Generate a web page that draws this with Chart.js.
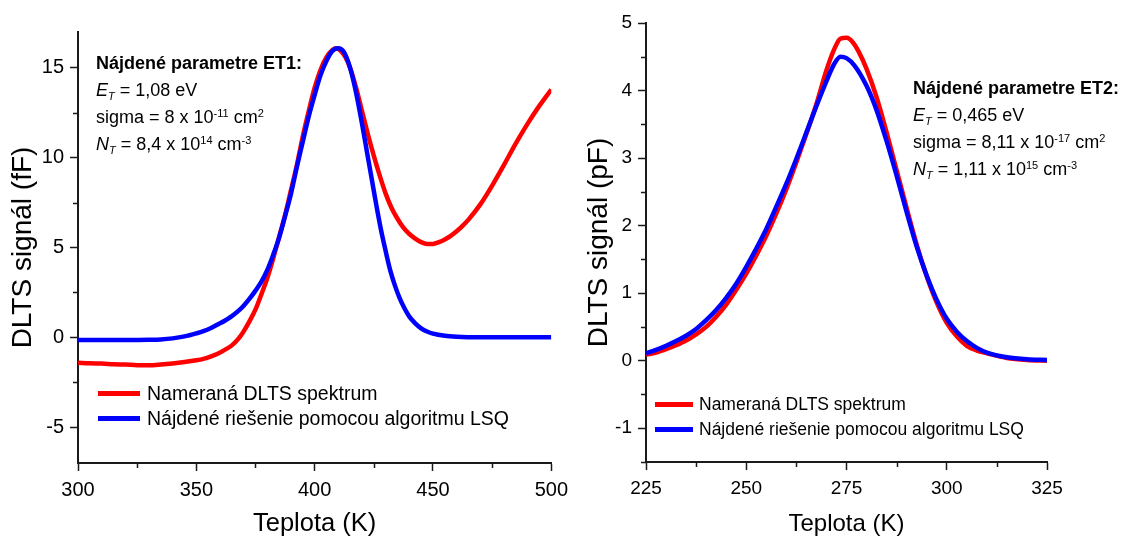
<!DOCTYPE html>
<html>
<head>
<meta charset="utf-8">
<title>DLTS spektrá</title>
<script src="https://cdn.jsdelivr.net/npm/chart.js@4.4.0/dist/chart.umd.min.js"></script>
<style>
  body { margin: 0; background: #fff; font-family: 'Liberation Sans', Arial, sans-serif; }
  #wrap { position: relative; width: 1129px; height: 542px; overflow: hidden; }
  canvas { position: absolute; top: 0; }
  #c1 { left: 0; }
  #c2 { left: 575px; }
  .note { position: absolute; font-size: 18px; line-height: 27px; color: #000; white-space: nowrap; }
  .note sup, .note sub { font-size: 11px; line-height: 0; position: relative; vertical-align: baseline; }
  .note sup { top: -6px; }
  .note sub { top: 4px; }
  .legend { position: absolute; color: #000; white-space: nowrap; }
  .legend .row { display: flex; align-items: center; height: 25px; }
  .legend .swatch { display: inline-block; height: 5px; }
</style>
</head>
<body>
<div id="wrap">
  <canvas id="c1" width="575" height="542"></canvas>
  <canvas id="c2" width="554" height="542"></canvas>

  <div class="note" style="left:96px; top:50px;">
    <b>Nájdené parametre ET1:</b><br>
    <i>E</i><sub><i>T</i></sub> = 1,08 eV<br>
    sigma = 8 x 10<sup>-11</sup> cm<sup>2</sup><br>
    <i>N</i><sub><i>T</i></sub> = 8,4 x 10<sup>14</sup> cm<sup>-3</sup>
  </div>
  <div class="note" style="left:913px; top:75px;">
    <b>Nájdené parametre ET2:</b><br>
    <i>E</i><sub><i>T</i></sub> = 0,465 eV<br>
    sigma = 8,11 x 10<sup>-17</sup> cm<sup>2</sup><br>
    <i>N</i><sub><i>T</i></sub> = 1,11 x 10<sup>15</sup> cm<sup>-3</sup>
  </div>

  <div class="legend" style="left:98px; top:381px; font-size:19.5px;">
    <div class="row"><span class="swatch" style="width:42px; margin-right:7px; background:#ff0000;"></span>Nameraná DLTS spektrum</div>
    <div class="row"><span class="swatch" style="width:42px; margin-right:7px; background:#0000ff;"></span>Nájdené riešenie pomocou algoritmu LSQ</div>
  </div>
  <div class="legend" style="left:655px; top:392px; font-size:17.5px;">
    <div class="row"><span class="swatch" style="width:38px; margin-right:6px; background:#ff0000;"></span>Nameraná DLTS spektrum</div>
    <div class="row"><span class="swatch" style="width:38px; margin-right:6px; background:#0000ff;"></span>Nájdené riešenie pomocou algoritmu LSQ</div>
  </div>
</div>

<script>
// ET1 - measured spectrum (fF) and LSQ fit
var temp1Meas = [300, 305, 310, 315, 320, 325, 330, 335, 340, 345, 350, 353, 356, 359, 362, 365, 368, 370,
  372.5, 375, 377.5, 380, 382.5, 385, 387.5, 390, 392.5, 395, 397.5, 400, 402.5, 405, 407.5, 409, 411, 413,
  415, 417.5, 420, 422.5, 425, 427.5, 430, 432.5, 435, 437.5, 440, 442.5, 445, 447.5, 450, 452.5, 455,
  457.5, 460, 462.5, 465, 470, 475, 480, 485, 490, 495, 500];
var sig1Meas = [-1.42, -1.45, -1.46, -1.50, -1.52, -1.55, -1.56, -1.52, -1.46, -1.38, -1.28, -1.20, -1.08,
  -0.92, -0.70, -0.45, -0.05, 0.33, 0.90, 1.55, 2.40, 3.30, 4.40, 5.60, 6.80, 8.20, 9.60, 11.20, 12.60,
  13.90, 14.90, 15.60, 16.00, 16.10, 15.95, 15.60, 15.00, 13.90, 12.60, 11.30, 10.10, 9.00, 8.00, 7.20,
  6.60, 6.10, 5.75, 5.50, 5.30, 5.20, 5.20, 5.30, 5.45, 5.65, 5.90, 6.20, 6.55, 7.40, 8.45, 9.60, 10.80,
  11.90, 12.90, 13.80];
var temp1Fit = [300, 310, 320, 330, 335, 340, 345, 350, 353, 356, 359, 362, 365, 368, 370, 372.5, 375,
  377.5, 380, 382.5, 385, 387.5, 390, 392.5, 395, 397.5, 400, 402.5, 405, 407.5, 410, 412, 414, 416, 418,
  420, 422, 424, 426, 428, 430, 432, 434, 436, 438, 440, 442.5, 445, 447.5, 450, 455, 460, 470, 480, 500];
var sig1Fit = [-0.15, -0.15, -0.15, -0.14, -0.12, -0.06, 0.05, 0.22, 0.34, 0.50, 0.71, 0.92, 1.18, 1.50,
  1.76, 2.15, 2.60, 3.10, 3.75, 4.60, 5.55, 6.75, 8.00, 9.50, 10.90, 12.30, 13.50, 14.60, 15.40, 15.95,
  16.10, 15.95, 15.40, 14.50, 13.30, 11.90, 10.40, 8.90, 7.40, 6.00, 4.80, 3.70, 2.85, 2.15, 1.60, 1.15,
  0.78, 0.50, 0.32, 0.20, 0.08, 0.03, 0.00, 0.00, 0.00];

// ET2 - measured spectrum (pF) and LSQ fit
var temp2Meas = [225, 227.5, 230, 232.5, 235, 237.5, 240, 242.5, 245, 247.5, 250, 252.5, 255, 257.5, 260,
  262.5, 265, 267.5, 270, 272, 273.5, 275, 276.5, 278, 280, 282.5, 285, 287.5, 290, 292.5, 295, 297.5,
  300, 302.5, 305, 307.5, 310, 315, 320, 325];
var sig2Meas = [0.09, 0.12, 0.17, 0.23, 0.30, 0.39, 0.50, 0.65, 0.83, 1.05, 1.29, 1.56, 1.85, 2.18, 2.54,
  2.94, 3.36, 3.80, 4.30, 4.62, 4.77, 4.78, 4.72, 4.58, 4.32, 3.90, 3.38, 2.82, 2.26, 1.72, 1.25, 0.86,
  0.56, 0.36, 0.22, 0.15, 0.11, 0.04, 0.01, 0.00];
var temp2Fit = [225, 227.5, 230, 232.5, 235, 237.5, 240, 242.5, 245, 247.5, 250, 252.5, 255, 257.5, 260,
  262.5, 265, 267.5, 270, 272, 273.5, 275, 277, 280, 282.5, 285, 287.5, 290, 292.5, 295, 297.5, 300,
  302.5, 305, 307.5, 310, 315, 320, 325];
var sig2Fit = [0.11, 0.16, 0.22, 0.29, 0.37, 0.47, 0.60, 0.75, 0.93, 1.14, 1.39, 1.66, 1.95, 2.28, 2.62,
  2.99, 3.38, 3.77, 4.14, 4.40, 4.50, 4.48, 4.37, 4.07, 3.71, 3.25, 2.74, 2.20, 1.69, 1.26, 0.90, 0.62,
  0.43, 0.29, 0.19, 0.12, 0.05, 0.02, 0.01];

// minor tick positions (major ones come from stepSize)
var minorX1 = [325, 375, 425, 475];
var minorY1 = [-2.5, 2.5, 7.5, 12.5];
var minorX2 = [237.5, 262.5, 287.5, 312.5];
var minorY2 = [-1.5, -0.5, 0.5, 1.5, 2.5, 3.5, 4.5];

var axisColor = '#1a1a1a';
Chart.defaults.font.family = "'Liberation Sans', Arial, sans-serif";
Chart.defaults.color = '#000';

function pairs(xs, ys) {
  return xs.map(function (x, i) { return { x: x, y: ys[i] }; });
}

// short outward ticks between the labelled ones
var minorTicks = {
  id: 'minorTicks',
  afterDraw: function (chart, args, opts) {
    var ctx = chart.ctx, area = chart.chartArea;
    ctx.save();
    ctx.strokeStyle = axisColor;
    ctx.lineWidth = 1.5;
    ctx.beginPath();
    opts.x.forEach(function (v) {
      var px = Math.round(chart.scales.x.getPixelForValue(v)) + 0.5;
      ctx.moveTo(px, area.bottom);
      ctx.lineTo(px, area.bottom + 5);
    });
    opts.y.forEach(function (v) {
      var py = Math.round(chart.scales.y.getPixelForValue(v)) + 0.5;
      ctx.moveTo(area.left, py);
      ctx.lineTo(area.left - 5, py);
    });
    ctx.stroke();
    ctx.restore();
  }
};

function makeChart(id, cfg) {
  return new Chart(document.getElementById(id), {
    type: 'line',
    data: {
      datasets: [
        {
          label: 'Nameraná DLTS spektrum',
          data: pairs(cfg.measX, cfg.measY),
          borderColor: '#ff0000',
          borderWidth: 4.5,
          pointRadius: 0,
          cubicInterpolationMode: 'monotone',
          order: 1
        },
        {
          label: 'Nájdené riešenie pomocou algoritmu LSQ',
          data: pairs(cfg.fitX, cfg.fitY),
          borderColor: '#0000ff',
          borderWidth: 4.5,
          pointRadius: 0,
          cubicInterpolationMode: 'monotone',
          order: 0
        }
      ]
    },
    options: {
      responsive: false,
      animation: false,
      layout: { padding: { left: 0, top: cfg.top, right: cfg.right, bottom: 0 } },
      plugins: {
        legend: { display: false },
        tooltip: { enabled: false },
        minorTicks: { x: cfg.minorX, y: cfg.minorY }
      },
      scales: {
        x: {
          type: 'linear',
          min: cfg.xMin, max: cfg.xMax,
          afterFit: function (s) { s.height = cfg.xHeight; },
          border: { color: axisColor, width: 2 },
          grid: { drawOnChartArea: false, tickLength: 8, tickColor: axisColor, tickWidth: 1.5 },
          ticks: { stepSize: cfg.xStep, font: { size: cfg.tickSize }, padding: 7, maxRotation: 0 },
          title: { display: true, text: 'Teplota (K)', font: { size: cfg.xTitleSize }, padding: { top: 0, bottom: 3 } }
        },
        y: {
          min: cfg.yMin, max: cfg.yMax,
          afterFit: function (s) { s.width = cfg.yWidth; },
          border: { color: axisColor, width: 2 },
          grid: { drawOnChartArea: false, tickLength: 8, tickColor: axisColor, tickWidth: 1.5 },
          ticks: { stepSize: cfg.yStep, includeBounds: false, font: { size: cfg.tickSize }, padding: 6 },
          title: { display: true, text: cfg.yTitle, font: { size: 28 }, padding: { top: cfg.yTitlePad, bottom: 0 } }
        }
      }
    },
    plugins: [minorTicks]
  });
}

makeChart('c1', {
  measX: temp1Meas, measY: sig1Meas, fitX: temp1Fit, fitY: sig1Fit,
  minorX: minorX1, minorY: minorY1,
  xMin: 300, xMax: 500, xStep: 50,
  yMin: -7, yMax: 17, yStep: 5,
  yTitle: 'DLTS signál (fF)',
  top: 32, right: 23, xHeight: 79, yWidth: 78, yTitlePad: 6, tickSize: 20, xTitleSize: 25.5
});

makeChart('c2', {
  measX: temp2Meas, measY: sig2Meas, fitX: temp2Fit, fitY: sig2Fit,
  minorX: minorX2, minorY: minorY2,
  xMin: 225, xMax: 325, xStep: 25,
  yMin: -1.5, yMax: 5, yStep: 1,
  yTitle: 'DLTS signál (pF)',
  top: 23, right: 82, xHeight: 80, yWidth: 71, yTitlePad: 7, tickSize: 19, xTitleSize: 24
});
</script>
</body>
</html>
